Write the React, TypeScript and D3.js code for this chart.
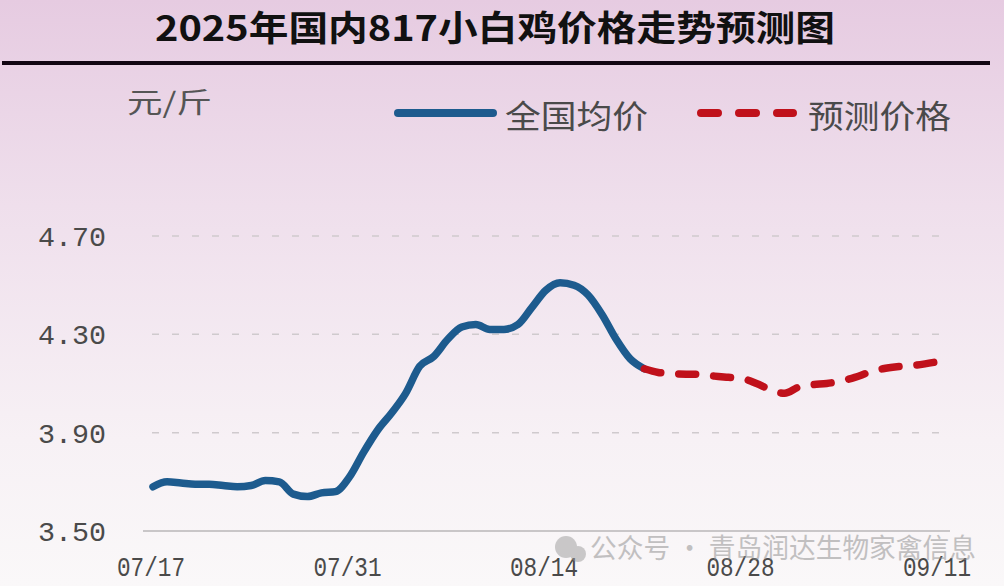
import React, { useRef, useEffect } from 'react';
import * as d3 from 'd3';

// Daily prices (元/斤)
const START_DATE = '2025-07-17';
const actualPrices = [
  3.68, 3.70, 3.695, 3.69, 3.69, 3.685, 3.68, 3.685, 3.705, 3.70,
  3.65, 3.64, 3.655, 3.66, 3.72, 3.82, 3.91, 3.98, 4.06, 4.17,
  4.21, 4.28, 4.33, 4.34, 4.32, 4.32, 4.34, 4.41, 4.48, 4.51,
  4.50, 4.46, 4.38, 4.28, 4.20, 4.16,
];
// forecast starts on the last actual day (08/21)
const forecastPrices = [
  4.16, 4.145, 4.14, 4.138, 4.137, 4.13, 4.125, 4.12, 4.10, 4.075,
  4.06, 4.085, 4.095, 4.10, 4.11, 4.125, 4.145, 4.16, 4.168, 4.172,
  4.18, 4.19,
];
const yTicks = [3.5, 3.9, 4.3, 4.7];
const xTickLabels = ['07/17', '07/31', '08/14', '08/28', '09/11'];
const legendLabels = ['全国均价', '预测价格'];

const W = 1004;
const H = 586;

export default function App() {
  const svgRef = useRef<SVGSVGElement>(null);

  useEffect(() => {
    if (!svgRef.current) return;
    const svg = d3.select(svgRef.current);
    svg.selectAll('*').remove();

    const start = d3.timeParse('%Y-%m-%d')(START_DATE) as Date;
    const dayAt = (i: number) => d3.timeDay.offset(start, i);
    const actual = actualPrices.map((v, i) => ({ date: dayAt(i), v }));
    const forecast = forecastPrices.map((v, i) => ({ date: dayAt(actualPrices.length - 1 + i), v }));

    const x = d3.scaleTime()
      .domain([start, dayAt(56)])
      .range([153, 939]);
    const y = d3.scaleLinear().domain([3.5, 4.7]).range([531, 236]);

    // background
    const defs = svg.append('defs');
    const grad = defs.append('linearGradient')
      .attr('id', 'bg').attr('x1', 0).attr('y1', 0).attr('x2', 0).attr('y2', 1);
    grad.append('stop').attr('offset', '0%').attr('stop-color', '#e6cbe1');
    grad.append('stop').attr('offset', '35%').attr('stop-color', '#efdfec');
    grad.append('stop').attr('offset', '75%').attr('stop-color', '#f7f1f5');
    grad.append('stop').attr('offset', '100%').attr('stop-color', '#faf8f9');
    svg.append('rect').attr('width', W).attr('height', H).attr('fill', 'url(#bg)');

    // title
    svg.append('text')
      .attr('x', 155).attr('y', 41)
      .attr('font-family', '"Noto Sans CJK SC", "DejaVu Sans", sans-serif')
      .attr('font-weight', 'bold')
      .attr('font-size', 35)
      .attr('textLength', 680)
      .attr('lengthAdjust', 'spacingAndGlyphs')
      .attr('fill', '#111')
      .text('2025年国内817小白鸡价格走势预测图');

    svg.append('line')
      .attr('x1', 2).attr('x2', 990).attr('y1', 63).attr('y2', 63)
      .attr('stroke', '#120612').attr('stroke-width', 4);

    // unit
    svg.append('text')
      .attr('x', 127).attr('y', 113)
      .attr('font-family', '"Noto Sans CJK SC", sans-serif')
      .attr('font-size', 28)
      .attr('textLength', 85)
      .attr('lengthAdjust', 'spacingAndGlyphs')
      .attr('fill', '#555')
      .text('元/斤');

    // legend
    const lg = svg.append('g');
    lg.append('line').attr('x1', 398).attr('x2', 493).attr('y1', 113).attr('y2', 113)
      .attr('stroke', '#1d5b8e').attr('stroke-width', 8).attr('stroke-linecap', 'round');
    lg.append('text').attr('x', 505).attr('y', 128)
      .attr('font-family', '"Noto Sans CJK SC", sans-serif').attr('font-size', 32)
      .attr('textLength', 143).attr('lengthAdjust', 'spacingAndGlyphs')
      .attr('fill', '#4a4a4a').text(legendLabels[0]);
    lg.append('line').attr('x1', 701).attr('x2', 793).attr('y1', 113).attr('y2', 113)
      .attr('stroke', '#c0111b').attr('stroke-width', 8).attr('stroke-linecap', 'round')
      .attr('stroke-dasharray', '17,21');
    lg.append('text').attr('x', 808).attr('y', 128)
      .attr('font-family', '"Noto Sans CJK SC", sans-serif').attr('font-size', 32)
      .attr('textLength', 143).attr('lengthAdjust', 'spacingAndGlyphs')
      .attr('fill', '#4a4a4a').text(legendLabels[1]);

    // gridlines and y labels
    yTicks.forEach((t) => {
      if (t === 3.5) {
        svg.append('line').attr('x1', 143).attr('x2', 950).attr('y1', y(t)).attr('y2', y(t))
          .attr('stroke', '#c9c6c8').attr('stroke-width', 2);
      } else {
        svg.append('line').attr('x1', 152).attr('x2', 950).attr('y1', y(t)).attr('y2', y(t))
          .attr('stroke', '#cfcacd').attr('stroke-width', 1.5).attr('stroke-dasharray', '7,13');
      }
      svg.append('text')
        .attr('x', 38).attr('y', y(t) + 10)
        .attr('font-family', '"Liberation Mono", "DejaVu Sans Mono", monospace')
        .attr('font-size', 28)
        .attr('textLength', 68).attr('lengthAdjust', 'spacingAndGlyphs')
        .attr('fill', '#4a4a4a')
        .text(d3.format('.2f')(t));
    });

    // x labels every 14 days
    xTickLabels.forEach((lab, i) => {
      svg.append('text')
        .attr('x', x(dayAt(i * 14)) - 2).attr('y', 576)
        .attr('text-anchor', 'middle')
        .attr('font-family', '"Liberation Mono", "DejaVu Sans Mono", monospace')
        .attr('font-size', 28)
        .attr('textLength', 68).attr('lengthAdjust', 'spacingAndGlyphs')
        .attr('fill', '#4a4a4a')
        .text(lab);
    });

    const line = d3.line<{ date: Date; v: number }>()
      .x((d) => x(d.date))
      .y((d) => y(d.v))
      .curve(d3.curveMonotoneX);

    svg.append('path').attr('d', line(actual) as string)
      .attr('fill', 'none').attr('stroke', '#1d5b8e').attr('stroke-width', 7.5)
      .attr('stroke-linejoin', 'round').attr('stroke-linecap', 'round');

    svg.append('path').attr('d', line(forecast) as string)
      .attr('fill', 'none').attr('stroke', '#c0111b').attr('stroke-width', 7.5)
      .attr('stroke-linecap', 'round').attr('stroke-dasharray', '17,18');

    // watermark
    const wm = svg.append('g').attr('opacity', 0.5);
    wm.append('circle').attr('cx', 566).attr('cy', 547).attr('r', 11).attr('fill', '#9a9a9a');
    wm.append('circle').attr('cx', 578).attr('cy', 554).attr('r', 8).attr('fill', '#9a9a9a');
    wm.append('text').attr('x', 590).attr('y', 558)
      .attr('font-family', '"Noto Sans CJK SC", sans-serif').attr('font-size', 27)
      .attr('textLength', 386).attr('lengthAdjust', 'spacingAndGlyphs')
      .attr('fill', '#8a8a8a')
      .text('公众号 · 青岛润达生物家禽信息');
  }, []);

  return (
    <div style={{ position: 'fixed', left: 0, top: 0, width: W, height: H }}>
      <svg ref={svgRef} width={W} height={H} style={{ display: 'block' }} />
    </div>
  );
}
